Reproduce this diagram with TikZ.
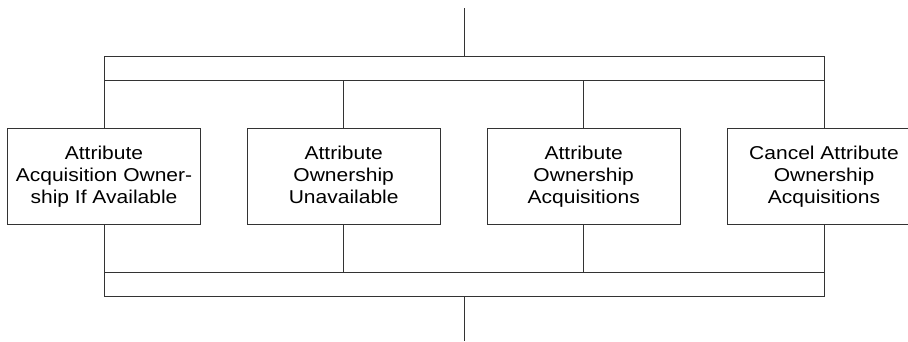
\documentclass[tikz,border=0pt]{standalone}
\usepackage{fontspec}
\newfontfamily\boxfont[FakeStretch=1.13]{Liberation Sans}
\begin{document}
\begin{tikzpicture}[x=1pt,y=-1pt,
  line/.style={draw=black!80,line width=0.9pt},
  bar/.style={line,rectangle,minimum width=720pt,minimum height=24pt,inner sep=0pt},
  task/.style={line,rectangle,minimum width=192.5pt,minimum height=96pt,inner sep=0pt,
    align=center,font=\boxfont\fontsize{18.6pt}{22pt}\selectfont,text=black}]
\useasboundingbox (0,0) rectangle (908,341);
\node[bar] (topbar) at (464,68.6) {};
\node[bar] (botbar) at (464,284.3) {};
\node[task] (b1) at (104,176.4) {Attribute\\Acquisition Owner-\\ship If Available};
\node[task] (b2) at (343.7,176.4) {Attribute\\Ownership\\Unavailable\vphantom{p}};
\node[task] (b3) at (583.7,176.4) {Attribute\\Ownership\\Acquisitions};
\node[task] (b4) at (824,176.4) {Cancel Attribute\\Ownership\\Acquisitions};
\coordinate (top) at (464,8.3);
\coordinate (bottom) at (464,341);
\draw[line] (top) -- (topbar.north);
\draw[line] (botbar.south) -- (bottom);
\foreach \b in {b1,b2,b3,b4}{
  \draw[line] (topbar.south -| \b.north) -- (\b.north);
  \draw[line] (\b.south) -- (botbar.north -| \b.south);
}
\end{tikzpicture}
\end{document}
